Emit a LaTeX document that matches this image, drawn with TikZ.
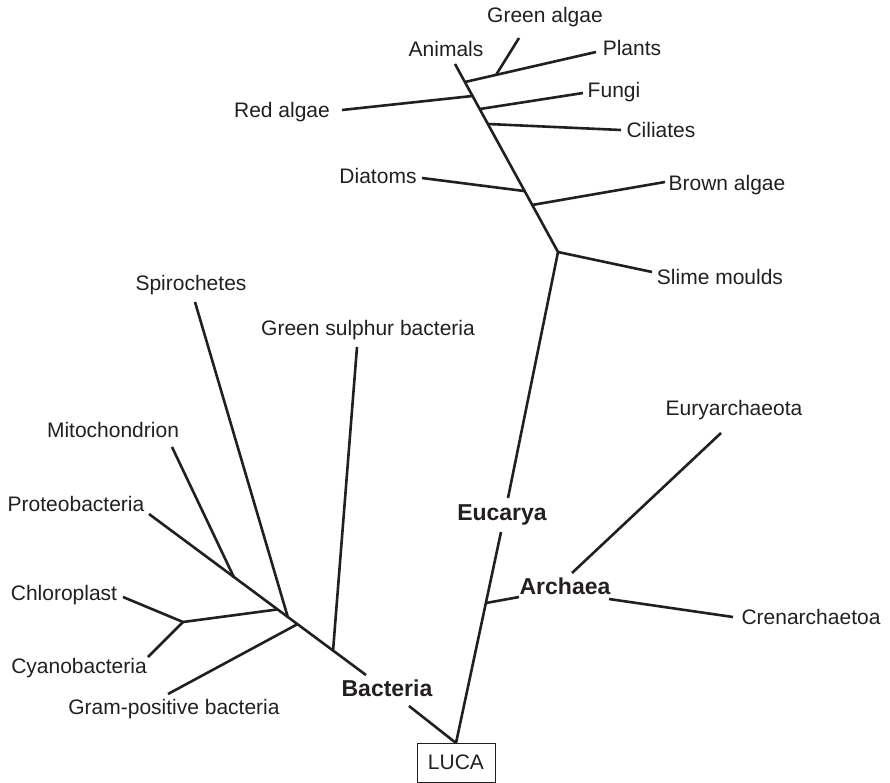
\documentclass[tikz,border=0pt]{standalone}
\usepackage{fontspec}
\setmainfont{Liberation Sans}
\begin{document}
\begin{tikzpicture}[x=1pt,y=-1pt,
  ink/.style={draw={rgb,255:red,35;green,31;blue,32}},
  branch/.style={ink,line width=2.6pt,line cap=butt,line join=miter},
  lbl/.style={anchor=base,inner sep=0pt,text={rgb,255:red,35;green,31;blue,32},font=\fontsize{21}{25}\selectfont},
  blbl/.style={anchor=base,inner sep=0pt,text={rgb,255:red,35;green,31;blue,32},font=\fontsize{23}{27}\selectfont\bfseries},
  rootbox/.style={ink,line width=1pt,minimum width=78pt,minimum height=39pt,inner sep=0pt,text={rgb,255:red,35;green,31;blue,32},font=\fontsize{21}{25}\selectfont}]
\useasboundingbox (0,0) rectangle (890,783);

% ---- labels ----
\node[lbl] (tGreenalgae) at (545,22.5) {Green algae};
\node[lbl] (tAnimals) at (446,56.5) {Animals};
\node[lbl] (tPlants) at (632,55.5) {Plants};
\node[lbl] (tRedalgae) at (282,118) {Red algae};
\node[lbl] (tFungi) at (614,97.5) {Fungi};
\node[lbl] (tCiliates) at (661,137.5) {Ciliates};
\node[lbl] (tDiatoms) at (378,183.5) {Diatoms};
\node[lbl] (tBrown) at (727,190.5) {Brown algae};
\node[lbl] (tSlime) at (720,284.5) {Slime moulds};
\node[lbl] (tSpiro) at (191,290.5) {Spirochetes};
\node[lbl] (tGreensul) at (368,335.5) {Green sulphur bacteria};
\node[lbl] (tMito) at (113,437.5) {Mitochondrion};
\node[lbl] (tProteo) at (76,511.5) {Proteobacteria};
\node[lbl] (tChloro) at (64,600.5) {Chloroplast};
\node[lbl] (tCyano) at (79,673.5) {Cyanobacteria};
\node[lbl] (tGram) at (174,714.5) {Gram-positive bacteria};
\node[lbl] (tEury) at (734,415.5) {Euryarchaeota};
\node[lbl] (tCren) at (811,624.5) {Crenarchaetoa};
\node[blbl] (tBacteria) at (387,696) {Bacteria};
\node[blbl] (tEucarya) at (502,520) {Eucarya};
\node[blbl] (tArchaea) at (565,594) {Archaea};
\node[rootbox] (luca) at (456,762.5) {LUCA};

% ---- coordinates: eukaryote crown ----
\coordinate (eTop) at (455,64);
\coordinate (jPl) at (465,82);
\coordinate (ePl) at (596,52);
\coordinate (jGa) at (496,75);
\coordinate (eGa) at (519,38);
\coordinate (jRa) at (472.5,96);
\coordinate (eRa) at (342,110);
\coordinate (jFu) at (480,109);
\coordinate (eFu) at (583,93);
\coordinate (jCi) at (488,124);
\coordinate (eCi) at (621,130);
\coordinate (jDi) at (524,191);
\coordinate (eDi) at (422,178);
\coordinate (jBr) at (532,205);
\coordinate (eBr) at (665,182);
\coordinate (jSl) at (558,252);
\coordinate (eSl) at (652,272);
% eucarya stem gap
\coordinate (gEu1) at (508,498);
\coordinate (gEu2) at (501,532);
\coordinate (lucaTop) at (456,743);
% archaea
\coordinate (jAr) at (486,603);
\coordinate (aW) at (519,597);
\coordinate (aN) at (572,573);
\coordinate (aE) at (609,599);
\coordinate (eEu) at (721,433);
\coordinate (eCr) at (733,617);
% bacteria
\coordinate (gBa1) at (409,706);
\coordinate (gBa2) at (366,675);
\coordinate (jGs) at (333,651.2);
\coordinate (eGs) at (357,347);
\coordinate (jGp) at (297,624.4);
\coordinate (eGp) at (168,694);
\coordinate (jSp) at (288,617.7);
\coordinate (eSp) at (195,302);
\coordinate (jCh) at (277,609.5);
\coordinate (jCC) at (183,622);
\coordinate (eCh) at (123,597);
\coordinate (eCy) at (148,657);
\coordinate (jMi) at (234,577.4);
\coordinate (eMi) at (172,447);
\coordinate (ePr) at (149,514);

% ---- eukaryote branches ----
\draw[branch] (eTop) -- (jSl);
\draw[branch] (jPl) -- (ePl);
\draw[branch] (jGa) -- (eGa);
\draw[branch] (jRa) -- (eRa);
\draw[branch] (jFu) -- (eFu);
\draw[branch] (jCi) -- (eCi);
\draw[branch] (jDi) -- (eDi);
\draw[branch] (jBr) -- (eBr);
\draw[branch] (jSl) -- (eSl);
\draw[branch] (jSl) -- (gEu1);
\draw[branch] (gEu2) -- (lucaTop);

% ---- archaea ----
\draw[branch] (jAr) -- (aW);
\draw[branch] (aN) -- (eEu);
\draw[branch] (aE) -- (eCr);

% ---- bacteria ----
\draw[branch] (lucaTop) -- (gBa1);
\draw[branch] (gBa2) -- (ePr);
\draw[branch] (jGs) -- (eGs);
\draw[branch] (jGp) -- (eGp);
\draw[branch] (jSp) -- (eSp);
\draw[branch] (jCh) -- (jCC);
\draw[branch] (jCC) -- (eCh);
\draw[branch] (jCC) -- (eCy);
\draw[branch] (jMi) -- (eMi);
\end{tikzpicture}
\end{document}
